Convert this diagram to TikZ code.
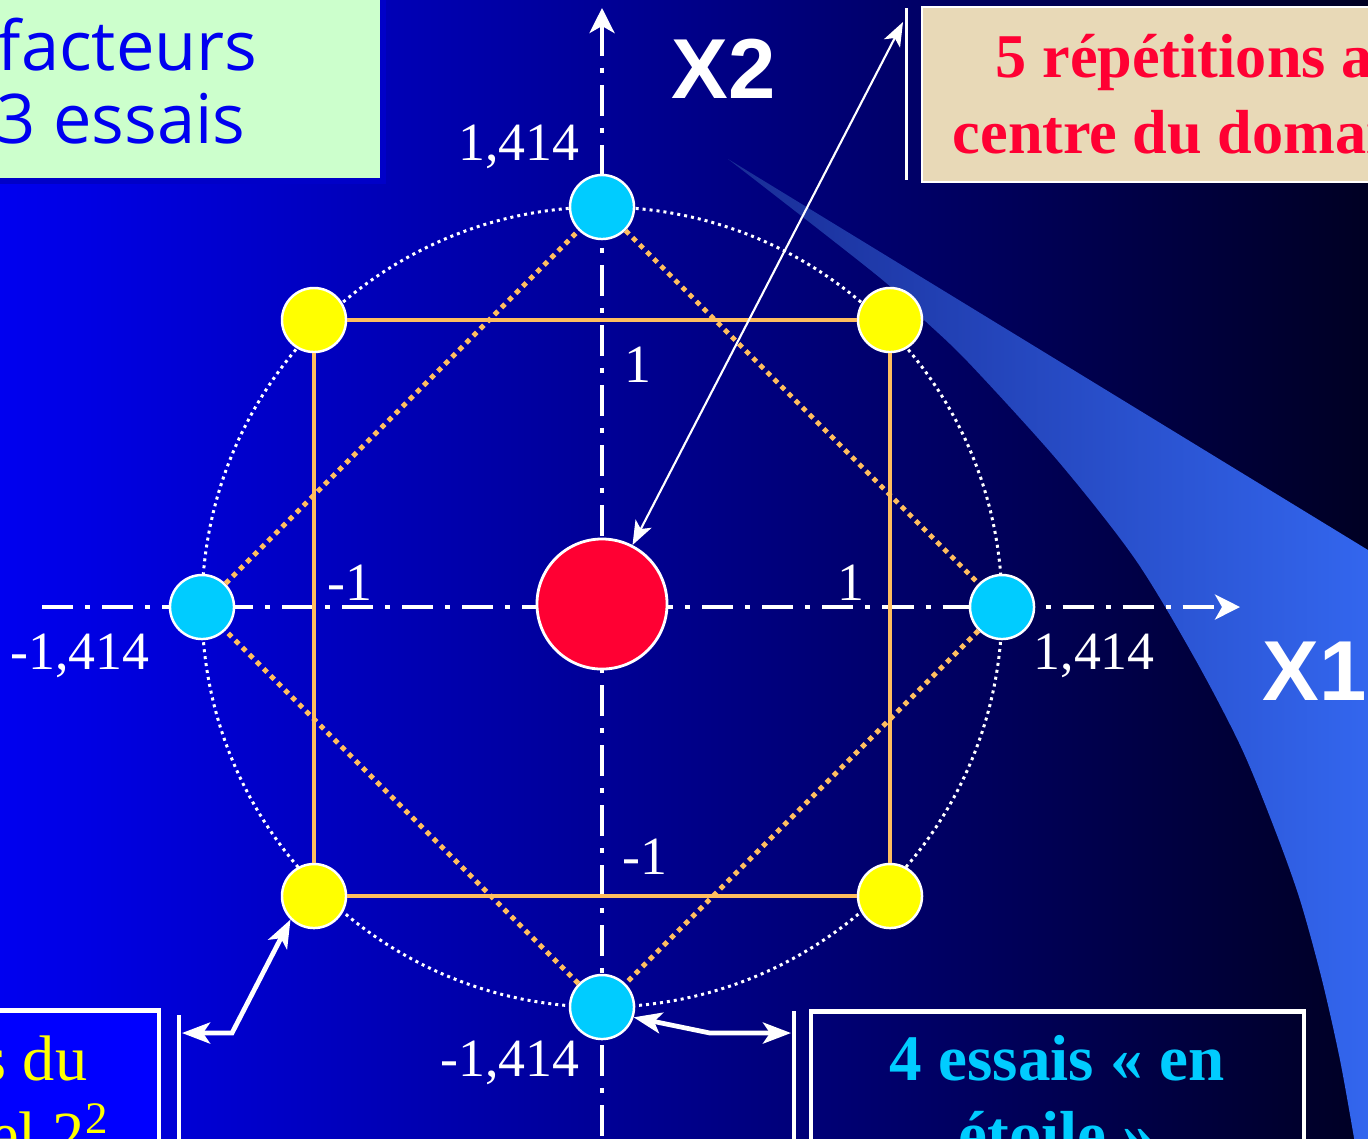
\documentclass[tikz,border=0pt]{standalone}
\usepackage{fontspec}
\setmainfont{Liberation Serif}
\setsansfont{Liberation Sans}
\newfontfamily\comicfont{Open Sans}
\usepackage{tikz}
\usetikzlibrary{arrows.meta, positioning, calc, shapes}
\definecolor{bgleft}{RGB}{0,0,240}
\definecolor{bgmid}{RGB}{0,0,160}
\definecolor{bgright}{RGB}{0,0,35}
\definecolor{wedgetip}{RGB}{25,45,150}
\definecolor{wedgeblue}{RGB}{51,102,238}
\definecolor{ptyellow}{RGB}{255,255,0}
\definecolor{ptcyan}{RGB}{0,204,255}
\definecolor{ptred}{RGB}{255,0,51}
\definecolor{squareorange}{RGB}{255,190,95}
\definecolor{notegreen}{RGB}{204,255,204}
\definecolor{noteborder}{RGB}{0,0,200}
\definecolor{inkblue}{RGB}{0,0,240}
\definecolor{parchment}{RGB}{232,217,183}
\definecolor{boxblue}{RGB}{0,0,255}

\begin{document}
\begin{tikzpicture}[x=0.01cm, y=-0.01cm,
  axis/.style={white, line width=1.15pt, dash pattern=on 0.31cm off 0.12cm on 0.05cm off 0.12cm},
  ypt/.style={circle, draw=white, line width=0.7pt, fill=ptyellow, minimum size=0.64cm, inner sep=0pt},
  cpt/.style={circle, draw=white, line width=0.7pt, fill=ptcyan, minimum size=0.64cm, inner sep=0pt},
  centrept/.style={circle, draw=white, line width=0.8pt, fill=ptred, minimum size=1.3cm, inner sep=0pt},
  squareline/.style={squareorange, line width=1.15pt},
  starline/.style={squareorange, line width=1.4pt, dash pattern=on 0.05cm off 0.05cm},
  ticklbl/.style={white, inner sep=0pt, font=\fontsize{15.3}{18}\selectfont},
  axislbl/.style={white, inner sep=0pt, font=\sffamily\bfseries\fontsize{24.2}{28}\selectfont},
  thinarrow/.style={white, line width=0.6pt, {Stealth[length=0.24cm, width=0.18cm, inset=0.06cm]}-{Stealth[length=0.24cm, width=0.18cm, inset=0.06cm]}},
  thickarrow/.style={white, line width=1.35pt, {Stealth[length=0.28cm, width=0.21cm, inset=0.07cm]}-{Stealth[length=0.28cm, width=0.21cm, inset=0.07cm]}},
  bar/.style={white, line width=1.4pt}]
  \useasboundingbox (0,0) rectangle (1368,1138);
  \shade[left color=bgleft, middle color=bgmid, right color=bgright] (0,0) rectangle (1368,1138);
  \shade[left color=wedgetip, right color=wedgeblue] (728,159) -- (1368,550) -- (1368,1145) -- (1354,1145)
    -- plot[smooth] coordinates {(1354,1138) (1340,1060) (1322,980) (1300,900) (1275,830) (1241,747)
      (1194,657) (1135,559) (1058,461) (968,362) (922,318) (879,277) (728,159)} -- cycle;

  \draw[white, line width=0.85pt, dash pattern=on 0.03cm off 0.04cm] (602,607) circle[radius=400];
  \coordinate (x1from) at (42,607);
  \coordinate (x1to) at (1240,607);
  \coordinate (x2from) at (602,1150);
  \coordinate (x2to) at (602,8);
  \draw[axis, -{Stealth[length=0.25cm, width=0.25cm, inset=0.07cm]}] (x1from) -- (x1to);
  \draw[axis, {Stealth[length=0.25cm, width=0.25cm, inset=0.07cm]}-] (x2to) -- (x2from);

  \node[centrept] (c0) at (602,604) {};
  \node[ypt] (y1) at (314,320) {};
  \node[ypt] (y2) at (890,320) {};
  \node[ypt] (y3) at (314,896) {};
  \node[ypt] (y4) at (890,896) {};
  \node[cpt] (s1) at (602,207) {};
  \node[cpt] (s2) at (1002,607) {};
  \node[cpt] (s3) at (602,1007) {};
  \node[cpt] (s4) at (202,607) {};
  \draw[squareline] (y1) -- (y2) -- (y4) -- (y3) -- (y1);
  \draw[starline] (s1) -- (s2) -- (s3) -- (s4) -- (s1);

  \node[ticklbl, anchor=base east] (t2p) at (580,160) {1,414};
  \node[ticklbl, anchor=base west] (t2a) at (624,382) {1};
  \node[ticklbl, anchor=base east] (t1b) at (373,600) {-1};
  \node[ticklbl, anchor=base east] (t1a) at (865,600) {1};
  \node[ticklbl, anchor=base east] (t1m) at (150,669) {-1,414};
  \node[ticklbl, anchor=base west] (t1p) at (1033,669) {1,414};
  \node[ticklbl, anchor=base west] (t2b) at (622,874) {-1};
  \node[ticklbl, anchor=base east] (t2m) at (580,1076) {-1,414};
  \node[axislbl, anchor=base west] (x2lbl) at (671,98) {X2};
  \node[axislbl, anchor=base west] (x1lbl) at (1262,700) {X1};

  \draw[noteborder, line width=1.7pt, fill=notegreen] (-20,-20) rectangle (383,181);
  \node[inkblue, inner sep=0pt, anchor=base east, font=\comicfont\fontsize{19.5}{24}\selectfont] (fac) at (258,70) {facteurs};
  \node[inkblue, inner sep=0pt, anchor=base east, font=\comicfont\fontsize{19.5}{24}\selectfont] (ess) at (246,143) {13 essais};

  \draw[white, line width=0.7pt, fill=parchment] (922,7) rectangle (1400,182);
  \draw[bar, line width=0.85pt] (906,8) -- (906,180);
  \node[ptred, inner sep=0pt, anchor=base west, font=\bfseries\fontsize{17.7}{21}\selectfont] (rep) at (995,77) {5 répétitions au};
  \node[ptred, inner sep=0pt, anchor=base west, font=\bfseries\fontsize{17.7}{21}\selectfont] (dom) at (952,153) {centre du domaine};
  \coordinate (reptip) at (903,22);
  \draw[thinarrow] (c0) -- (reptip);

  \draw[white, line width=1.4pt, fill=boxblue] (-20,1010) rectangle (159,1160);
  \draw[bar] (179,1015) -- (179,1160);
  \node[ptyellow, inner sep=0pt, anchor=base east, font=\fontsize{18.3}{22}\selectfont] (fdu) at (88,1080) {4 essais du};
  \node[ptyellow, inner sep=0pt, anchor=base east, font=\fontsize{18.3}{22}\selectfont] (fel) at (110,1156) {plan factoriel 2\textsuperscript{2}};
  \coordinate (fbar) at (182,1033);
  \coordinate (fbend) at (232,1033);
  \draw[thickarrow] (fbar) -- (fbend) -- (y3.225);

  \draw[white, line width=1.4pt] (811,1011) rectangle (1304,1160);
  \draw[bar] (794,1011) -- (794,1160);
  \node[ptcyan, inner sep=0pt, anchor=base, font=\bfseries\fontsize{18.5}{22}\selectfont] (etl) at (1057,1080) {4 essais « en};
  \node[ptcyan, inner sep=0pt, anchor=base, font=\bfseries\fontsize{18.5}{22}\selectfont] (eto) at (1057,1156) {étoile »};
  \coordinate (ebar) at (791,1033);
  \coordinate (ebend) at (710,1033);
  \draw[thickarrow] (s3.-18) -- (ebend) -- (ebar);
\end{tikzpicture}
\end{document}
